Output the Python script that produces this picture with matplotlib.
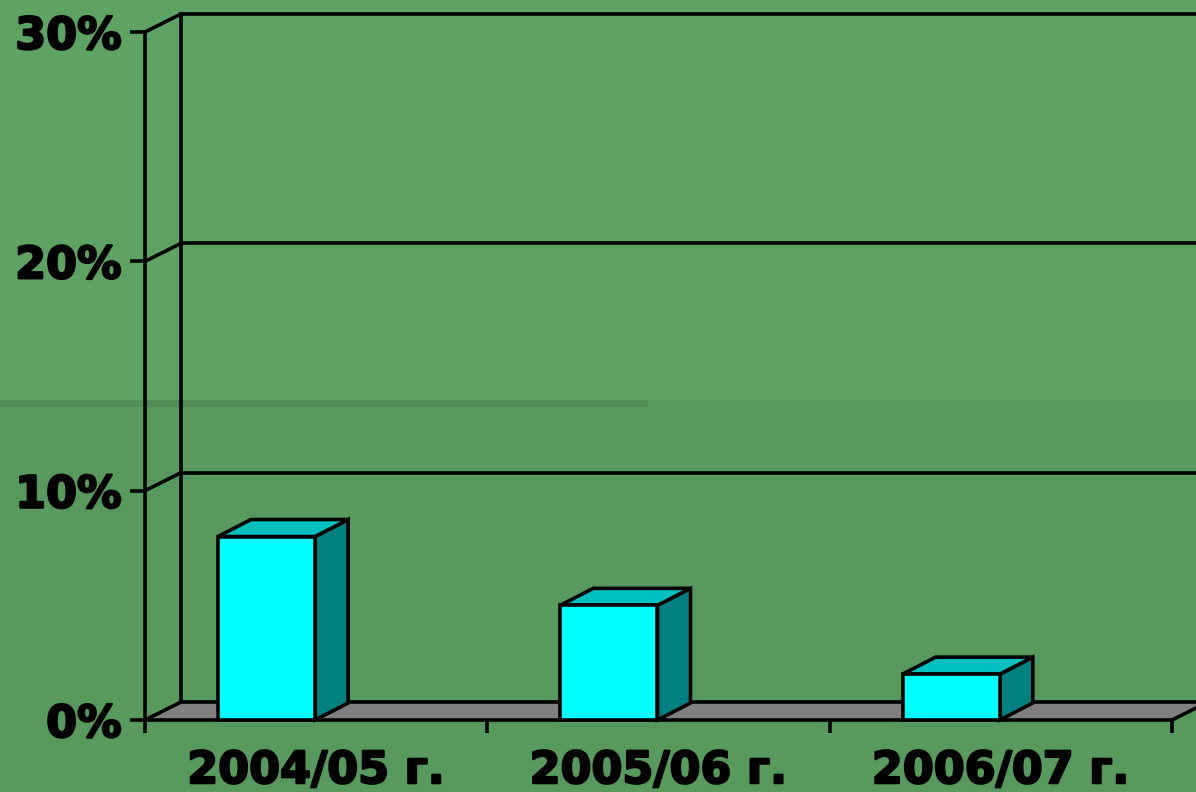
import matplotlib
matplotlib.use('Agg')
import matplotlib.pyplot as plt
import matplotlib.patheffects as pe
from matplotlib.patches import Polygon, Rectangle

# ---- data ----
categories = ['2004/05 г.', '2005/06 г.', '2006/07 г.']
values = [8, 5, 2]
yticks = [0, 10, 20, 30]
ytick_labels = ['0%', '10%', '20%', '30%']

# ---- styling ----
W, H = 1196, 792
LW = 2.6
FONT = 32
WALL_DX, WALL_DY = 0.1052, 0.785     # 3-D depth of walls (data units)
BAR_DX, BAR_DY = 0.0964, 0.741       # 3-D depth of bars
BAR_OFF, BAR_W = 0.213, 0.284

fig = plt.figure(figsize=(W / 100, H / 100), dpi=100)

# background
bg = fig.add_axes([0, 0, 1, 1])
bg.set_xlim(0, W)
bg.set_ylim(H, 0)
bg.axis('off')
bg.add_patch(Rectangle((0, 0), W, 400, color='#5ea264', lw=0))
bg.add_patch(Rectangle((0, 400), W, H - 400, color='#58995e', lw=0))
bg.add_patch(Rectangle((0, 400), 648, 7, color='#518b56', lw=0))

ax = fig.add_axes([145 / W, 72 / H, 1027 / W, 688 / H])
ax.patch.set_alpha(0)
n = len(categories)
ax.set_xlim(0, n)
ax.set_ylim(yticks[0], yticks[-1])

for s in ['top', 'right', 'bottom']:
    ax.spines[s].set_visible(False)
ax.spines['left'].set_linewidth(LW)
ax.spines['left'].set_color('black')
ax.spines['left'].set_zorder(5)

ax.set_yticks(yticks, ytick_labels)
ax.tick_params(axis='y', length=10.8, width=LW, pad=6, labelsize=FONT, colors='black')
ax.set_xticks(range(n + 1), [''] * (n + 1))
ax.tick_params(axis='x', which='major', length=9.5, width=LW, colors='black')
ax.set_xticks([i + 0.5 for i in range(n)], categories, minor=True)
ax.tick_params(axis='x', which='minor', length=0, pad=21, labelsize=FONT)
stroke = [pe.withStroke(linewidth=1.6, foreground='black')]
for lbl in ax.get_yticklabels() + ax.get_xticklabels(minor=True):
    lbl.set_fontweight('bold')
    lbl.set_path_effects(stroke)

ymax = yticks[-1]
kw = dict(color='black', lw=LW, clip_on=False, solid_capstyle='projecting')
# back wall vertical edge
ax.plot([WALL_DX, WALL_DX], [WALL_DY, ymax + WALL_DY], zorder=1, **kw)
# gridlines on back wall and side wall diagonals
for t in yticks[1:]:
    ax.plot([WALL_DX, n + WALL_DX], [t + WALL_DY, t + WALL_DY], zorder=1, **kw)
    ax.plot([0, WALL_DX], [t, t + WALL_DY], zorder=1, **kw)

# floor
floor = Polygon([(0, 0), (n, 0), (n + WALL_DX, WALL_DY), (WALL_DX, WALL_DY)],
                closed=True, fc='#808080', ec='black', lw=LW, clip_on=False,
                zorder=2, joinstyle='miter')
ax.add_patch(floor)

# bars
for i, v in enumerate(values):
    x0 = i + BAR_OFF
    x1 = x0 + BAR_W
    side = Polygon([(x1, 0), (x1 + BAR_DX, BAR_DY), (x1 + BAR_DX, v + BAR_DY), (x1, v)],
                   closed=True, fc='#008080', ec='black', lw=LW, zorder=3,
                   clip_on=False, joinstyle='miter')
    top = Polygon([(x0, v), (x1, v), (x1 + BAR_DX, v + BAR_DY), (x0 + BAR_DX, v + BAR_DY)],
                  closed=True, fc='#00c0c0', ec='black', lw=LW, zorder=3,
                  clip_on=False, joinstyle='miter')
    front = Rectangle((x0, 0), BAR_W, v, fc='#00ffff', ec='black', lw=LW, zorder=4,
                      clip_on=False, joinstyle='miter')
    ax.add_patch(side)
    ax.add_patch(top)
    ax.add_patch(front)

fig.savefig('out.png', dpi=100)
